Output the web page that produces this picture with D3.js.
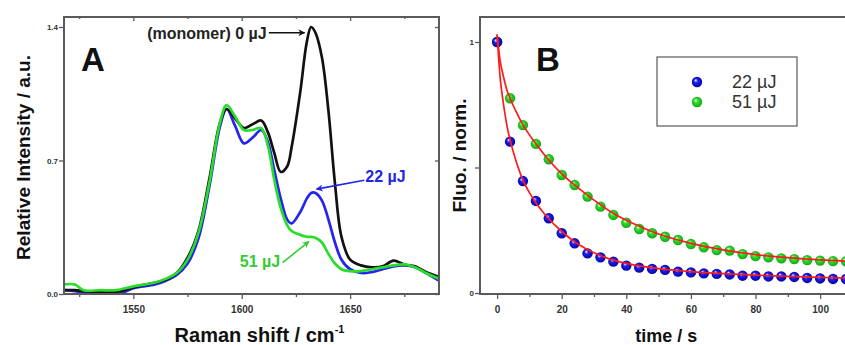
<!DOCTYPE html>
<html><head><meta charset="utf-8">
<script src="https://cdn.jsdelivr.net/npm/d3@7"></script>
<style>
html,body{margin:0;padding:0;background:#fff;}
svg{display:block;font-family:"Liberation Sans",Arial,sans-serif;}
</style></head>
<body>
<svg id="chart" width="845" height="345"></svg>
<script>
// ---------- Panel A data (Raman spectra) ----------
const wavenumbers = [1518,1523,1527,1535,1542,1550,1560,1565,1570,1575,1580,1585,1590,1593,1597,1601,1605,1609,1612,1615,1618,1621,1623,1627,1630,1632,1634,1637,1640,1643,1646,1650,1655,1660,1665,1670,1675,1680,1685,1691];
const monomer0uJ = [0.02,0.02,0.015,0.01,0.01,0.035,0.06,0.075,0.11,0.19,0.33,0.60,0.90,0.97,0.92,0.87,0.89,0.91,0.85,0.74,0.64,0.67,0.77,1.06,1.32,1.40,1.37,1.24,0.96,0.58,0.30,0.18,0.15,0.14,0.145,0.175,0.155,0.145,0.115,0.09];
const raman22uJ = [0.02,0.015,0.01,0.005,-0.005,0.03,0.05,0.07,0.10,0.16,0.29,0.56,0.88,0.97,0.88,0.79,0.82,0.86,0.80,0.65,0.50,0.39,0.37,0.43,0.50,0.53,0.53,0.49,0.39,0.27,0.18,0.13,0.11,0.115,0.13,0.145,0.15,0.14,0.11,0.07];
const raman51uJ = [0.05,0.05,0.02,0.02,0.02,0.04,0.06,0.08,0.11,0.18,0.32,0.58,0.90,0.99,0.93,0.86,0.86,0.87,0.78,0.60,0.45,0.36,0.33,0.31,0.30,0.30,0.295,0.27,0.21,0.16,0.13,0.12,0.12,0.13,0.14,0.15,0.155,0.14,0.11,0.08];
const ramanTicks = [1550,1600,1650];
const ramanMinorTicks = [1525,1575,1625,1675];
const intensityTicks = [0,0.7,1.4];
const intensityTickLabels = ["0.0","0.7","1.4"];

// ---------- Panel B data (fluorescence decay) ----------
const timeS = [0,4,8,12,16,20,24,28,32,36,40,44,48,52,56,60,64,68,72,76,80,84,88,92,96,100,104,108];
const fluo22uJ = [1.0,0.603,0.446,0.367,0.298,0.238,0.198,0.158,0.142,0.125,0.109,0.101,0.096,0.092,0.085,0.082,0.078,0.076,0.074,0.069,0.069,0.066,0.066,0.064,0.060,0.058,0.056,0.055];
const fluo51uJ = [1.0,0.776,0.669,0.594,0.533,0.470,0.430,0.384,0.344,0.311,0.280,0.255,0.238,0.224,0.211,0.195,0.182,0.171,0.169,0.155,0.147,0.142,0.138,0.135,0.131,0.129,0.127,0.126];
const fitTime = [0,1,2,3,4,6,8,10,12,15,20,25,30,35,40,50,60,70,80,90,100,110];
const fit22uJ = [1.03,0.85,0.75,0.67,0.61,0.52,0.45,0.40,0.36,0.31,0.245,0.195,0.16,0.135,0.118,0.097,0.085,0.077,0.071,0.066,0.062,0.059];
const fit51uJ = [1.03,0.92,0.86,0.81,0.775,0.72,0.67,0.63,0.595,0.545,0.475,0.42,0.37,0.325,0.29,0.235,0.198,0.172,0.153,0.141,0.132,0.126];
const timeTicks = [0,20,40,60,80,100];
const timeMinorTicks = [10,30,50,70,90];
const fluoTicks = [0,0.5,1];
const fluoTickLabels = ["0","","1"];
const legendLabels = ["22 µJ","51 µJ"];

const svg = d3.select("#chart");
const defs = svg.append("defs");
const FRAME = "#5a5a5a";

function sphere(id, col, dark){
  const g = defs.append("radialGradient").attr("id", id)
    .attr("cx","50%").attr("cy","50%").attr("r","55%").attr("fx","35%").attr("fy","32%");
  g.append("stop").attr("offset","0%").attr("stop-color","#ffffff");
  g.append("stop").attr("offset","35%").attr("stop-color",col);
  g.append("stop").attr("offset","100%").attr("stop-color",dark);
}
sphere("gBlue","#2020f0","#0000a0");
sphere("gGreen","#30e030","#10a010");

function arrowMarker(id, col){
  defs.append("marker").attr("id", id).attr("viewBox","0 0 10 10")
    .attr("refX",9).attr("refY",5).attr("markerWidth",9).attr("markerHeight",7)
    .attr("markerUnits","userSpaceOnUse").attr("orient","auto")
    .append("path").attr("d","M0,0 L10,5 L0,10 L3,5 Z").attr("fill", col);
}
arrowMarker("arBlack","#111");
arrowMarker("arBlue","#2525e8");
arrowMarker("arGreen","#33cc33");

// ================= Panel A =================
const A = {l:64, r:439, t:17, b:294};
const xA = d3.scaleLinear().domain([1518,1691]).range([A.l, A.r]);
const yA = d3.scaleLinear().domain([0,1.4]).range([294,27]);

defs.append("clipPath").attr("id","clipA").append("rect")
  .attr("x",A.l).attr("y",A.t).attr("width",A.r-A.l).attr("height",A.b-A.t);

const gA = svg.append("g");
const lineA = vals => d3.line().x((d,i)=>xA(wavenumbers[i])).y(d=>yA(d)).curve(d3.curveCatmullRom.alpha(0.5))(vals);
const plotA = gA.append("g").attr("clip-path","url(#clipA)");
plotA.append("path").attr("d", lineA(raman22uJ)).attr("fill","none").attr("stroke","#2424f0").attr("stroke-width",2.7);
plotA.append("path").attr("d", lineA(monomer0uJ)).attr("fill","none").attr("stroke","#111").attr("stroke-width",2.7);
plotA.append("path").attr("d", lineA(raman51uJ)).attr("fill","none").attr("stroke","#2add2a").attr("stroke-width",2.7);

const axA_b = d3.axisBottom(xA).tickValues(ramanTicks).tickSize(5).tickFormat(d3.format("d"));
const axA_bm = d3.axisBottom(xA).tickValues(ramanMinorTicks).tickSize(3).tickFormat("");
const axA_t = d3.axisBottom(xA).tickValues(ramanTicks).tickSize(4).tickFormat("");
const axA_tm = d3.axisBottom(xA).tickValues(ramanMinorTicks).tickSize(2).tickFormat("");
const axA_l = d3.axisLeft(yA).tickValues(intensityTicks).tickSize(5).tickFormat((d,i)=>intensityTickLabels[i]);
const axA_r = d3.axisLeft(yA).tickValues(intensityTicks).tickSize(4).tickFormat("");
function styleAxis(g, fs){
  g.select(".domain").remove();
  g.selectAll("line").attr("stroke",FRAME).attr("stroke-width",1.3);
  g.selectAll("text").attr("fill","#333").attr("font-weight","bold").attr("font-size",fs);
}
gA.append("g").attr("transform",`translate(0,${A.b})`).call(axA_b).call(g=>styleAxis(g,10)).selectAll("text").attr("dy","1.05em");
gA.append("g").attr("transform",`translate(0,${A.b})`).call(axA_bm).call(g=>styleAxis(g,10));
gA.append("g").attr("transform",`translate(0,${A.t})`).call(axA_t).call(g=>styleAxis(g,10));
gA.append("g").attr("transform",`translate(0,${A.t})`).call(axA_tm).call(g=>styleAxis(g,10));
gA.append("g").attr("transform",`translate(${A.l},0)`).call(axA_l).call(g=>styleAxis(g,8)).selectAll("text").attr("x",-6);
gA.append("g").attr("transform",`translate(${A.r},0)`).call(axA_r).call(g=>styleAxis(g,8));
gA.append("rect").attr("x",A.l).attr("y",A.t).attr("width",A.r-A.l).attr("height",A.b-A.t)
  .attr("fill","none").attr("stroke",FRAME).attr("stroke-width",2);

gA.append("text").attr("transform",`translate(30,${(A.t+A.b)/2+2}) rotate(-90)`)
  .attr("text-anchor","middle").attr("font-weight","bold").attr("font-size",19).attr("fill","#111")
  .text("Relative Intensity / a.u.");
const xtA = gA.append("text").attr("x",(A.l+A.r)/2+8).attr("y",342).attr("text-anchor","middle")
  .attr("font-weight","bold").attr("font-size",20).attr("fill","#111");
xtA.append("tspan").text("Raman shift / cm");
xtA.append("tspan").attr("dy",-9).attr("font-size",11).text("-1");
gA.append("text").attr("x",81).attr("y",71).attr("font-weight","bold").attr("font-size",33).attr("fill","#111").text("A");

// annotations A
gA.append("text").attr("x",xA(1611.5)).attr("y",yA(1.335)).attr("text-anchor","end")
  .attr("font-weight","bold").attr("font-size",16).attr("fill","#222").text("(monomer) 0 µJ");
gA.append("line").attr("x1",xA(1612.5)).attr("y1",yA(1.37)).attr("x2",xA(1629)).attr("y2",yA(1.37))
  .attr("stroke","#111").attr("stroke-width",1.6).attr("marker-end","url(#arBlack)");
gA.append("text").attr("x",xA(1657)).attr("y",yA(0.585)).attr("text-anchor","start")
  .attr("font-weight","bold").attr("font-size",16).attr("fill","#2525e8").text("22 µJ");
gA.append("line").attr("x1",xA(1656.5)).attr("y1",yA(0.596)).attr("x2",xA(1634.5)).attr("y2",yA(0.55))
  .attr("stroke","#2525e8").attr("stroke-width",1.6).attr("marker-end","url(#arBlue)");
gA.append("text").attr("x",xA(1617.7)).attr("y",yA(0.14)).attr("text-anchor","end")
  .attr("font-weight","bold").attr("font-size",16).attr("fill","#33cc33").text("51 µJ");
gA.append("line").attr("x1",xA(1618.8)).attr("y1",yA(0.165)).attr("x2",xA(1631)).attr("y2",yA(0.275))
  .attr("stroke","#33cc33").attr("stroke-width",1.6).attr("marker-end","url(#arGreen)");

// ================= Panel B =================
const B = {l:480, r:848, t:17, b:294};
const xB = d3.scaleLinear().domain([-5.3,110]).range([480, 480+115.3*3.23]);
const yB = d3.scaleLinear().domain([0,1]).range([293,42]);
defs.append("clipPath").attr("id","clipB").append("rect")
  .attr("x",B.l).attr("y",B.t-6).attr("width",B.r-B.l).attr("height",B.b-B.t+6);
const gB = svg.append("g");
const plotB = gB.append("g").attr("clip-path","url(#clipB)");

const pts51 = timeS.map((t,i)=>({t, v:fluo51uJ[i]}));
const pts22 = timeS.map((t,i)=>({t, v:fluo22uJ[i]}));
plotB.selectAll("circle.g51").data(pts51).join("circle").attr("class","g51")
  .attr("cx",d=>xB(d.t)).attr("cy",d=>yB(d.v)).attr("r",5.2).attr("fill","url(#gGreen)");
plotB.selectAll("circle.b22").data(pts22).join("circle").attr("class","b22")
  .attr("cx",d=>xB(d.t)).attr("cy",d=>yB(d.v)).attr("r",5.2).attr("fill","url(#gBlue)");
const lineB = vals => d3.line().x((d,i)=>xB(fitTime[i])).y(d=>yB(d)).curve(d3.curveCatmullRom.alpha(0.5))(vals);
plotB.append("path").attr("d", lineB(fit22uJ)).attr("fill","none").attr("stroke","#ff1a1a").attr("stroke-width",1.7);
plotB.append("path").attr("d", lineB(fit51uJ)).attr("fill","none").attr("stroke","#ff1a1a").attr("stroke-width",1.7);

const axB_b = d3.axisBottom(xB).tickValues(timeTicks).tickSize(5).tickFormat(d3.format("d"));
const axB_bm = d3.axisBottom(xB).tickValues(timeMinorTicks).tickSize(3).tickFormat("");
const axB_l = d3.axisLeft(yB).tickValues(fluoTicks).tickSize(5).tickFormat((d,i)=>fluoTickLabels[i]);
gB.append("g").attr("transform",`translate(0,${B.b})`).call(axB_b).call(g=>styleAxis(g,10)).selectAll("text").attr("dy","1.05em");
gB.append("g").attr("transform",`translate(0,${B.b})`).call(axB_bm).call(g=>styleAxis(g,10));
gB.append("g").attr("transform",`translate(${B.l},0)`).call(axB_l).call(g=>styleAxis(g,8)).selectAll("text").attr("x",-6);
gB.append("rect").attr("x",B.l).attr("y",B.t).attr("width",B.r-B.l).attr("height",B.b-B.t)
  .attr("fill","none").attr("stroke",FRAME).attr("stroke-width",2);

gB.append("text").attr("x",xB(-5.3)+56).attr("y",yB(1)+29).attr("font-weight","bold").attr("font-size",33).attr("fill","#111").text("B");
gB.append("text").attr("transform",`translate(466,${(B.t+B.b)/2}) rotate(-90)`)
  .attr("text-anchor","middle").attr("font-weight","bold").attr("font-size",19).attr("fill","#111")
  .text("Fluo. / norm.");
gB.append("text").attr("x",xB(52.4)).attr("y",342).attr("text-anchor","middle")
  .attr("font-weight","bold").attr("font-size",18).attr("fill","#111").text("time / s");

// legend
const lg = gB.append("g").attr("transform","translate(657,57)");
lg.append("rect").attr("width",140).attr("height",69).attr("fill","#fff").attr("stroke","#666").attr("stroke-width",1.3);
const legFills = ["url(#gBlue)","url(#gGreen)"];
legendLabels.forEach((lab,i)=>{
  lg.append("circle").attr("cx",40).attr("cy",25+i*20).attr("r",5.2).attr("fill",legFills[i]);
  lg.append("text").attr("x",75).attr("y",31+i*20).attr("font-size",18).attr("fill","#333").text(lab);
});
</script>
</body></html>
